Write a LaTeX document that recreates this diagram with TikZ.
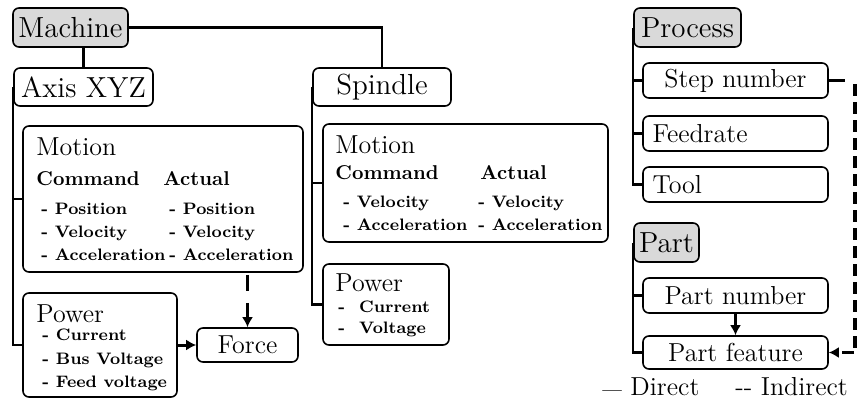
\documentclass[tikz,border=0pt]{standalone}
\usepackage{fontspec}
\usetikzlibrary{arrows.meta}
\definecolor{ink}{HTML}{000000}
\definecolor{rootfill}{HTML}{D9D9D9}
\newcommand\headf{\fontsize{14.5}{16}\selectfont}
\newcommand\boxf{\fontsize{13}{15}\selectfont}
\newcommand\colf{\fontsize{10}{12}\selectfont\bfseries}
\newcommand\itemf{\fontsize{8.3}{10}\selectfont\bfseries}
\tikzset{
  box/.style={draw=ink, rounded corners=3pt, line width=0.8pt, inner sep=0pt, align=center, font=\boxf, text=ink},
  head/.style={box, font=\headf},
  root/.style={head, fill=rootfill},
  leftbox/.style={box, align=left, inner xsep=4.75pt, text width=83pt},
  lab/.style={anchor=base west, inner sep=0pt, font=\boxf, text=ink},
  col/.style={anchor=base west, inner sep=0pt, font=\colf, text=ink},
  item/.style={anchor=base west, inner sep=0pt, font=\itemf, text=ink},
  conn/.style={line width=1.2pt, draw=ink},
  arr/.style={line width=1.5pt, draw=ink, -{Latex[length=5pt,width=5.5pt]}},
  indirect/.style={line width=1.9pt, draw=ink, dash pattern=on 6pt off 3pt},
}

\begin{document}
\begin{tikzpicture}[x=0.5pt, y=-0.5pt]
  \useasboundingbox (0,0) rectangle (859,402);
  % machine
  \node[root, minimum width=57.5pt, minimum height=19.5pt] (machine) at (70.5,27.5) {Machine};
  \node[head, minimum width=69.5pt, minimum height=19pt] (axis) at (83.5,87) {Axis XYZ};
  \node[head, minimum width=69pt, minimum height=19pt] (spindle) at (382,87) {Spindle};
  \node[box, minimum width=140pt, minimum height=73pt] (axMotion) at (163,199) {};
  \node[box, minimum width=77pt, minimum height=52pt] (axPower) at (100,345) {};
  \node[box, minimum width=50.5pt, minimum height=17pt] (force) at (247.5,345) {Force};
  \node[box, minimum width=142.5pt, minimum height=59pt] (spMotion) at (465.5,183) {};
  \node[box, minimum width=63pt, minimum height=40.5pt] (spPower) at (386,304.5) {};

  \node[lab] (axMotionT) at (36,155) {Motion};
  \node[col] (axCmd) at (36,185) {Command};
  \node[col] (axAct) at (163,185) {Actual};
  \foreach \t [count=\i] in {Position,Velocity,Acceleration} {
    \node[item] (axc\i) at (41,{191+23*\i}) {- \t};
    \node[item] (axa\i) at (169,{191+23*\i}) {- \t};
  }
  \node[lab] (axPowerT) at (36,322) {Power};
  \foreach \t [count=\i] in {Current,Bus Voltage,Feed voltage}
    \node[item] (axp\i) at (42,{317+23.5*\i}) {- \t};

  \node[lab] (spMotionT) at (335,153) {Motion};
  \node[col] (spCmd) at (335,179) {Command};
  \node[col] (spAct) at (480,179) {Actual};
  \foreach \t [count=\i] in {Velocity,Acceleration} {
    \node[item] (spc\i) at (343,{184+23*\i}) {- \t};
    \node[item] (spa\i) at (478,{184+23*\i}) {- \t};
  }
  \node[lab] (spPowerT) at (335,291) {Power};
  \foreach \t [count=\i] in {Current,Voltage}
    \node[item] (spp\i) at (338,{291+21*\i}) {-\hspace*{7pt}\t};

  % process and part
  \node[root, minimum width=53.5pt, minimum height=19.5pt] (process) at (687.5,27.5) {Process};
  \node[box, minimum width=92.5pt, minimum height=17.5pt] (step) at (735.5,80.5) {Step number};
  \node[leftbox, minimum height=17.5pt] (feed) at (735.5,133.5) {Feedrate};
  \node[leftbox, minimum height=17.5pt] (tool) at (735.5,184.5) {Tool};
  \node[root, minimum width=32.5pt, minimum height=19.5pt] (part) at (666.5,242.5) {Part};
  \node[box, minimum width=92.5pt, minimum height=17.5pt] (partNum) at (735.5,295.5) {Part number};
  \node[box, minimum width=92.5pt, minimum height=16.5pt] (partFeat) at (735.5,352.5) {Part feature};

  \node[lab] (legDirect) at (602,395) {{\fontsize{8}{9}\selectfont\bfseries ---}~Direct};
  \node[lab] (legIndirect) at (735,395) {{-}{-} Indirect};

  \coordinate (stepStub) at (845,80.5);
  \coordinate (dropTop) at (855,84);

  % connectors
  \draw[conn] (machine.east) -| (spindle.north);
  \draw[conn] (axis.north |- machine.south) -- (axis.north);
  \draw[conn] (axis.west) |- (axPower.west);
  \draw[conn] (axis.west |- axMotion.west) -- (axMotion.west);
  \draw[conn] (spindle.west) |- (spPower.west);
  \draw[conn] (spindle.west |- spMotion.west) -- (spMotion.west);
  \draw[conn] (process.west) |- (tool.west);
  \foreach \n in {step,feed} \draw[conn] (process.west |- \n.west) -- (\n.west);
  \draw[conn] (part.west) |- (partFeat.west);
  \draw[conn] (part.west |- partNum.west) -- (partNum.west);
  \draw[arr] (axPower.east) -- (force.west);
  \draw[arr] (partNum.south) -- (partFeat.north);
  \draw[arr, line width=1.8pt, dash pattern=on 8pt off 6pt] (force.north |- axMotion.south) ++(0,2) -- (force.north);
  \draw[conn, line width=1.5pt] (step.east) -- (stepStub);
  \draw[indirect, -{Latex[length=5pt,width=5.5pt]}] (dropTop) |- (partFeat.east);
\end{tikzpicture}
\end{document}
